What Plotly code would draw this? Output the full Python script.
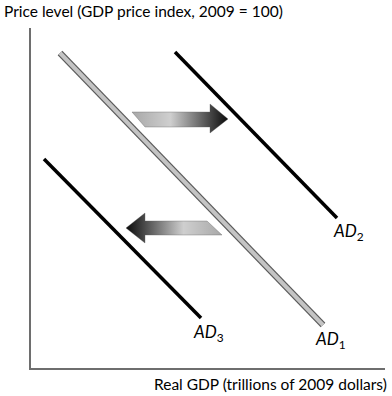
import plotly.graph_objects as go

# Curve endpoints (data space: x = real GDP, y = price level, arbitrary units)
ad1_x = [29, 292]
ad1_y = [315, 43]
ad2_x = [144, 306]
ad2_y = [316, 150]
ad3_x = [13, 170]
ad3_y = [209, 50]

# Shift arrows (polygons)
arrow_right_x = [101, 179, 179, 197, 179, 179, 114, 101]
arrow_right_y = [256, 256, 264, 249, 235, 241, 241, 256]
arrow_left_x = [95, 114, 114, 176, 191, 114, 114, 95]
arrow_left_y = [140, 155, 147, 147, 133, 133, 125, 140]

# Curve labels
label_text = ["<i>AD</i><sub>1</sub>", "<i>AD</i><sub>2</sub>", "<i>AD</i><sub>3</sub>"]
label_x = [299, 317, 177]
label_y = [28, 136, 35]

fig = go.Figure()

fig.add_trace(go.Scatter(
    x=arrow_right_x, y=arrow_right_y, mode="lines", fill="toself",
    line=dict(color="rgba(90,90,90,0.6)", width=0.6),
    fillgradient=dict(type="horizontal",
                      colorscale=[[0, "#a8a8a8"], [0.4, "#cfcfcf"], [1, "#0a0a0a"]]),
    hoverinfo="skip", showlegend=False))
fig.add_trace(go.Scatter(
    x=arrow_left_x, y=arrow_left_y, mode="lines", fill="toself",
    line=dict(color="rgba(90,90,90,0.6)", width=0.6),
    fillgradient=dict(type="horizontal",
                      colorscale=[[0, "#0a0a0a"], [0.6, "#cfcfcf"], [1, "#a8a8a8"]]),
    hoverinfo="skip", showlegend=False))

# AD1: gray with dark outline
fig.add_trace(go.Scatter(x=ad1_x, y=ad1_y, mode="lines",
                         line=dict(color="#5a5a5a", width=6.5),
                         hoverinfo="skip", showlegend=False))
fig.add_trace(go.Scatter(x=ad1_x, y=ad1_y, mode="lines",
                         line=dict(color="#c4c4c4", width=4),
                         hoverinfo="skip", showlegend=False))
# AD2, AD3: black
for xs, ys in [(ad2_x, ad2_y), (ad3_x, ad3_y)]:
    fig.add_trace(go.Scatter(x=xs, y=ys, mode="lines",
                             line=dict(color="#000000", width=3.5),
                             hoverinfo="skip", showlegend=False))

for t, x, y in zip(label_text, label_x, label_y):
    fig.add_annotation(x=x, y=y, text=t, showarrow=False,
                       font=dict(family="Lato", size=17, color="#000"))

fig.add_annotation(xref="paper", yref="paper", x=-29/354, y=1 + 17/340,
                   xanchor="left", yanchor="middle", showarrow=False,
                   text="Price level (GDP price index, 2009 = 100)",
                   font=dict(family="Lato", size=15.5, color="#000"))
fig.add_annotation(xref="paper", yref="paper", x=1 + 4/354, y=-16/340,
                   xanchor="right", yanchor="middle", showarrow=False,
                   text="Real GDP (trillions of 2009 dollars)",
                   font=dict(family="Lato", size=15.5, color="#000"))

axis_common = dict(showgrid=False, zeroline=False, showticklabels=False,
                   ticks="", showline=True, linecolor="#6e6e6e", linewidth=1.5,
                   fixedrange=True)
fig.update_layout(
    width=392, height=396,
    margin=dict(l=31, r=7, t=28, b=28),
    plot_bgcolor="white", paper_bgcolor="white",
    xaxis=dict(range=[0, 354], **axis_common),
    yaxis=dict(range=[0, 340], **axis_common),
)

fig.write_html("out.html", config={"displayModeBar": False},
               post_script="document.body.style.margin='0';document.body.style.overflow='hidden';")
